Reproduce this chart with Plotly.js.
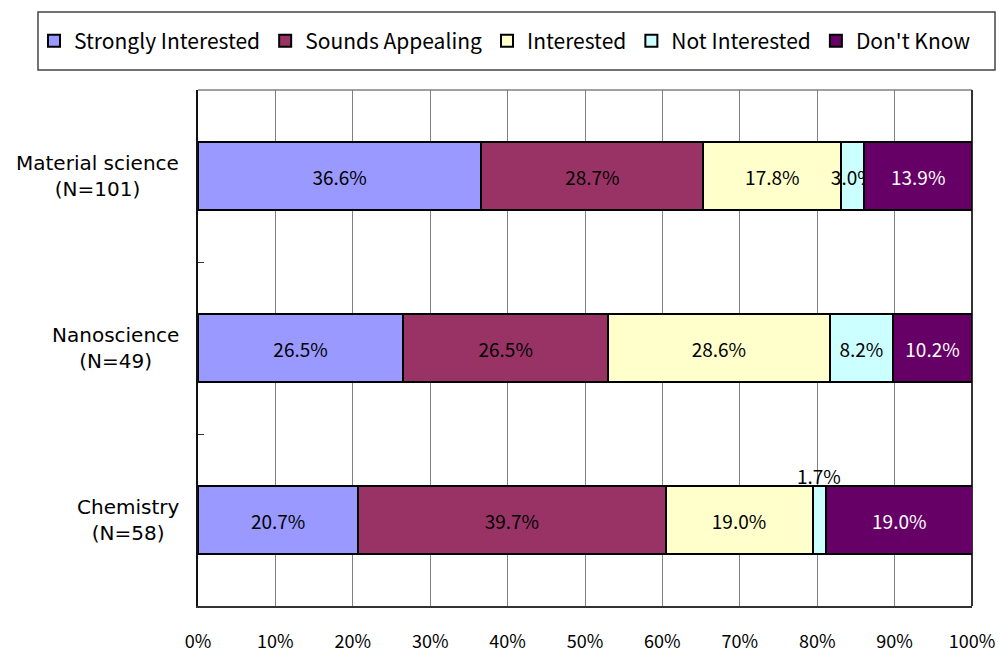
<!DOCTYPE html>
<html><head><meta charset="utf-8">
<script src="https://cdn.plot.ly/plotly-3.0.1.min.js"></script>
<style>html,body{margin:0;padding:0;background:#fff}#chart{width:1000px;height:655px}</style>
</head><body><div id="chart"></div>
<script>
const categoryNames = ['Material science', 'Nanoscience', 'Chemistry'];
const sampleSizes = [101, 49, 58];
const seriesNames = ['Strongly Interested', 'Sounds Appealing', 'Interested', 'Not Interested', "Don't Know"];
const stronglyInterested = [36.6, 26.5, 20.7];
const soundsAppealing = [28.7, 26.5, 39.7];
const interested = [17.8, 28.6, 19.0];
const notInterested = [3.0, 8.2, 1.7];
const dontKnow = [13.9, 10.2, 19.0];
const xTickValues = [0, 10, 20, 30, 40, 50, 60, 70, 80, 90, 100];
const xTickLabels = ['0%','10%','20%','30%','40%','50%','60%','70%','80%','90%','100%'];

const series = [stronglyInterested, soundsAppealing, interested, notInterested, dontKnow];
const colors = ['#9999FF', '#993366', '#FFFFCC', '#CCFFFF', '#660066'];
const textColors = ['#000', '#000', '#000', '#000', '#fff'];
const FONT = '"Noto Sans CJK JP", "Noto Sans", sans-serif';
const categories = categoryNames;

// label of a thin segment drawn above its bar instead of inside
const outsideLabel = {series: 3, cat: 2};

const traces = series.map((vals, i) => ({
  type: 'bar', orientation: 'h', name: seriesNames[i],
  y: categories, x: vals,
  marker: {color: colors[i], line: {color: '#000', width: 2}},
  text: vals.map((v, j) => (i === outsideLabel.series && j === outsideLabel.cat) ? '' : v.toFixed(1) + '%'),
  textposition: 'inside', insidetextanchor: 'middle', constraintext: 'none', textangle: 0,
  textfont: {family: FONT, size: 19, color: textColors[i]},
  hoverinfo: 'name+x'
}));

let cum = 0;
for (let k = 0; k < outsideLabel.series; k++) cum += series[k][outsideLabel.cat];
const annX = cum + series[outsideLabel.series][outsideLabel.cat] / 2;

const annotations = [{
  x: annX, y: categories[outsideLabel.cat], xref: 'x', yref: 'y',
  text: notInterested[outsideLabel.cat].toFixed(1) + '%', showarrow: false,
  yshift: 45, font: {family: FONT, size: 19, color: '#000'}
}];
categoryNames.forEach((name, j) => {
  annotations.push({
    x: -0.022, xref: 'paper', xanchor: 'right', y: name, yref: 'y', yanchor: 'middle',
    text: name + '<br>(N=' + sampleSizes[j] + ')', align: 'center', showarrow: false,
    font: {family: 'DejaVu Sans, sans-serif', size: 20, color: '#000'}
  });
});

const layout = {
  width: 1000, height: 655,
  margin: {l: 198, r: 28, t: 90, b: 49},
  paper_bgcolor: '#fff', plot_bgcolor: '#fff',
  barmode: 'stack', bargap: 0.61,
  font: {family: FONT, size: 18, color: '#000'},
  showlegend: true,
  legend: {
    orientation: 'h', xref: 'paper', yref: 'paper',
    x: (34 - 198) / 774, xanchor: 'left', y: (606 - 41) / 516, yanchor: 'middle',
    borderwidth: 0, bgcolor: 'rgba(0,0,0,0)',
    font: {family: FONT, size: 21, color: '#000'},
    traceorder: 'normal', itemwidth: 30
  },
  xaxis: {
    range: [0, 100], tickvals: xTickValues, ticktext: xTickLabels,
    showgrid: true, gridcolor: '#808080', gridwidth: 1,
    showline: true, linecolor: '#333', linewidth: 2, mirror: false,
    ticks: '', ticklabelstandoff: 18, zeroline: false,
    tickfont: {family: FONT, size: 18, color: '#000'}, fixedrange: true
  },
  yaxis: {
    type: 'category', autorange: 'reversed',
    showline: true, linecolor: '#111', linewidth: 2, mirror: false,
    ticks: 'inside', tickson: 'boundaries', ticklen: 6, tickcolor: '#333',
    showgrid: false, showticklabels: false, fixedrange: true
  },
  shapes: [
    {type: 'rect', xref: 'paper', yref: 'paper',
     x0: (38 - 198) / 774, x1: (995 - 198) / 774, y0: (606 - 70) / 516, y1: (606 - 12) / 516,
     line: {color: '#444', width: 1.5}, fillcolor: 'rgba(0,0,0,0)', layer: 'below'},
    {type: 'line', xref: 'paper', yref: 'paper', x0: 0, x1: 1, y0: 1, y1: 1,
     line: {color: '#808080', width: 1.5}, layer: 'below'},
    {type: 'line', xref: 'paper', yref: 'paper', x0: 1, x1: 1, y0: 0, y1: 1,
     line: {color: '#333', width: 2}, layer: 'below'}
  ],
  annotations: annotations
};

Plotly.newPlot('chart', traces, layout, {displayModeBar: false, staticPlot: true});
</script></body></html>
